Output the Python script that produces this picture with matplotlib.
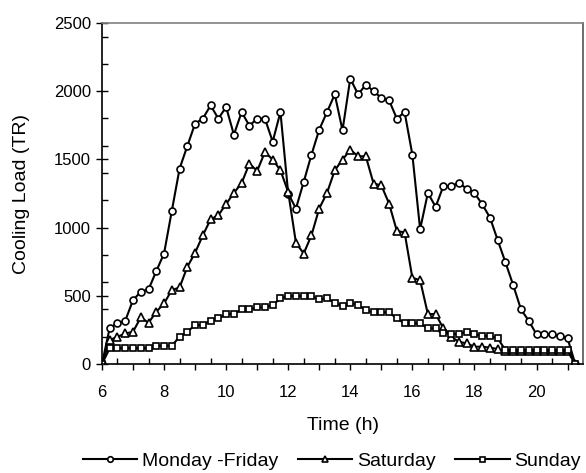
import numpy as np
import matplotlib.pyplot as plt
from matplotlib.ticker import MultipleLocator, FuncFormatter

plt.rcParams['font.family'] = ['Liberation Sans', 'DejaVu Sans']
plt.rcParams['font.size'] = 12

# 15-minute readings starting at 6:00
hours = 6 + 0.25 * np.arange(62)

weekday = [0, 266, 298, 317, 469, 529, 547, 681, 810, 1122,
           1432, 1598, 1762, 1799, 1896, 1799, 1884, 1681, 1847, 1747,
           1799, 1799, 1630, 1847, 1250, 1140, 1335, 1535, 1718, 1847,
           1977, 1713, 2093, 1977, 2047, 2001, 1950, 1933, 1799, 1847,
           1535, 988, 1254, 1152, 1305, 1305, 1327, 1286, 1254, 1171,
           1074, 908, 745, 578, 400, 317, 217, 217, 217, 205,
           188, 0]
saturday = [0, 176, 200, 224, 236, 342, 302, 383, 444, 542,
            561, 712, 815, 944, 1060, 1091, 1173, 1254, 1327, 1469,
            1415, 1554, 1498, 1420, 1261, 888, 810, 944, 1140, 1254,
            1420, 1498, 1571, 1523, 1523, 1323, 1310, 1176, 976, 964,
            632, 615, 366, 366, 261, 200, 163, 151, 127, 127,
            120, 110, 95, 95, 95, 95, 95, 95, 95, 95,
            95, 0]
sunday = [0, 115, 115, 115, 115, 115, 115, 134, 134, 134,
          200, 237, 285, 285, 317, 334, 366, 366, 400, 400,
          415, 415, 432, 481, 498, 498, 498, 498, 473, 481,
          449, 425, 449, 432, 395, 378, 378, 378, 334, 298,
          298, 298, 261, 261, 229, 220, 220, 237, 220, 205,
          205, 188, 102, 102, 102, 102, 102, 102, 102, 102,
          102, 0]

fig = plt.figure(figsize=(5.86, 4.73), dpi=100)
ax = fig.add_axes([0.174, 0.2304, 0.821, 0.721])

style = dict(color='black', lw=1.5, mfc='white', mec='black', mew=1.2)
ax.plot(hours, weekday, marker='o', ms=5, label='Monday -Friday', **style)
ax.plot(hours, saturday, marker='^', ms=6, label='Saturday', **style)
ax.plot(hours, sunday, marker='s', ms=4.5, label='Sunday', **style)

ax.set_xlim(6, 21.5)
ax.set_ylim(0, 2500)

ax.xaxis.set_major_locator(MultipleLocator(1))
ax.xaxis.set_major_formatter(FuncFormatter(lambda v, p: '%d' % v if round(v) % 2 == 0 and v < 21 else ''))
ax.set_xticks(np.arange(6.5, 21.5, 1.0), minor=True)
ax.yaxis.set_major_locator(MultipleLocator(500))
ax.set_yticks([200, 400, 600, 800, 1200, 1400, 1600, 1800, 2200, 2400], minor=True)

ax.tick_params(axis='x', which='major', direction='out', length=4, width=1, pad=11)
ax.tick_params(axis='x', which='minor', direction='in', length=4, width=1)
ax.tick_params(axis='y', which='major', direction='inout', length=8, width=1, pad=4)
ax.tick_params(axis='y', which='minor', direction='in', length=4, width=1)

ax.spines['top'].set_color('#808080')
ax.spines['right'].set_color('#555555')
for s in ax.spines.values():
    s.set_linewidth(1.2)

ax.set_xlabel('Time (h)', fontsize=14, labelpad=12)
ax.set_ylabel('Cooling Load (TR)', fontsize=14, labelpad=17)

ax.legend(loc='center', bbox_to_anchor=(0.478, -0.285), ncol=3, frameon=False,
          fontsize=14, handlelength=2.8, handletextpad=0.25, columnspacing=1.0,
          markerscale=0.8)

fig.savefig('out.png', dpi=100)
